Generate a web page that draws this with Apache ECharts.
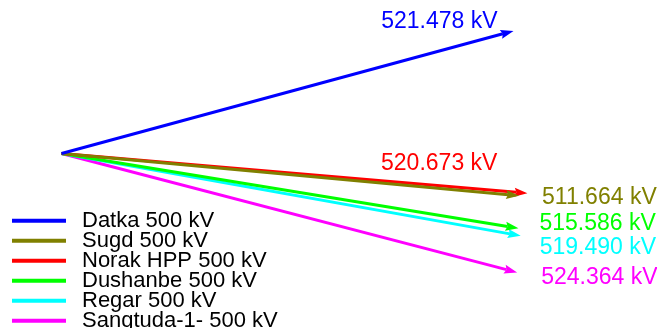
<!DOCTYPE html>
<html>
<head>
<meta charset="utf-8">
<title>Voltage phasors</title>
<script src="https://cdn.jsdelivr.net/npm/echarts@6/dist/echarts.min.js"></script>
<style>
  html, body { margin: 0; padding: 0; background: #ffffff; }
  #chart { width: 657px; height: 328px; }
</style>
</head>
<body>
<div id="chart"></div>
<script>
// Bus voltage phasors (magnitude in kV, angle in degrees)
const busNames = ['Datka 500 kV', 'Sugd 500 kV', 'Norak HPP 500 kV', 'Dushanbe 500 kV', 'Regar 500 kV', 'Sangtuda-1- 500 kV'];
const magnitudesKV = [521.478, 511.664, 520.673, 515.586, 519.490, 524.364];
const anglesDeg = [15.17, -5.28, -4.88, -9.30, -10.16, -14.63];
const busColors = ['#0000ff', '#808000', '#ff0000', '#00ff00', '#00ffff', '#ff00ff'];

// Where each value label sits relative to its arrow tip (pixels) and how it is aligned
const labelOffsets = [[-16, -9, 'right'], [23, 1.5, 'left'], [-30, -30, 'right'], [21, -5, 'left'], [19, 12, 'left'], [24, 5.5, 'left']];

const LABEL_FONT = '23px "Liberation Sans", Arial, sans-serif';

function phasorSeries(i) {
  const rad = anglesDeg[i] * Math.PI / 180;
  const re = magnitudesKV[i] * Math.cos(rad);
  const im = magnitudesKV[i] * Math.sin(rad);
  return {
    name: busNames[i],
    type: 'custom',
    coordinateSystem: 'cartesian2d',
    itemStyle: { color: busColors[i] },
    data: [[re, im, magnitudesKV[i]]],
    silent: true,
    renderItem: function (params, api) {
      const o = api.coord([0, 0]);
      const t = api.coord([api.value(0), api.value(1)]);
      const dx = t[0] - o[0], dy = t[1] - o[1];
      const len = Math.sqrt(dx * dx + dy * dy);
      const ux = dx / len, uy = dy / len;
      const headLen = 13, headHalf = 4.5, notch = 2;
      const bx = t[0] - ux * headLen, by = t[1] - uy * headLen;
      const nx = -uy, ny = ux;
      const off = labelOffsets[i];
      return {
        type: 'group',
        children: [
          {
            type: 'line',
            shape: { x1: o[0], y1: o[1], x2: bx + ux * notch, y2: by + uy * notch },
            style: { stroke: busColors[i], lineWidth: 3 }
          },
          {
            type: 'polygon',
            shape: {
              points: [
                [t[0], t[1]],
                [bx + nx * headHalf, by + ny * headHalf],
                [bx + ux * notch, by + uy * notch],
                [bx - nx * headHalf, by - ny * headHalf]
              ]
            },
            style: { fill: busColors[i] }
          },
          {
            type: 'text',
            x: t[0] + off[0],
            y: t[1] + off[1],
            style: {
              text: api.value(2).toFixed(3) + ' kV',
              fill: busColors[i],
              font: LABEL_FONT,
              align: off[2],
              verticalAlign: 'middle'
            }
          }
        ]
      };
    }
  };
}

// Draw the last bus first so the earlier ones lie on top near the origin
const series = [];
for (let i = busNames.length - 1; i >= 0; i--) series.push(phasorSeries(i));

const chart = echarts.init(document.getElementById('chart'), null, { renderer: 'canvas' });
chart.setOption({
  animation: false,
  backgroundColor: '#ffffff',
  grid: { left: 0, right: 0, top: 0, bottom: 0 },
  xAxis: { type: 'value', min: -68.5, max: 663.1, show: false },
  yAxis: { type: 'value', min: -194.3, max: 170.9, show: false },
  legend: {
    data: busNames,
    orient: 'vertical',
    left: 12,
    top: 209.7,
    height: 160,
    padding: 0,
    itemGap: -2,
    icon: 'rect',
    itemWidth: 54,
    itemHeight: 4,
    selectedMode: false,
    textStyle: {
      color: '#000000',
      fontFamily: '"Liberation Sans", Arial, sans-serif',
      fontSize: 22,
      lineHeight: 20,
      padding: [0, 0, 0, 11]
    }
  },
  series: series
});
</script>
</body>
</html>
